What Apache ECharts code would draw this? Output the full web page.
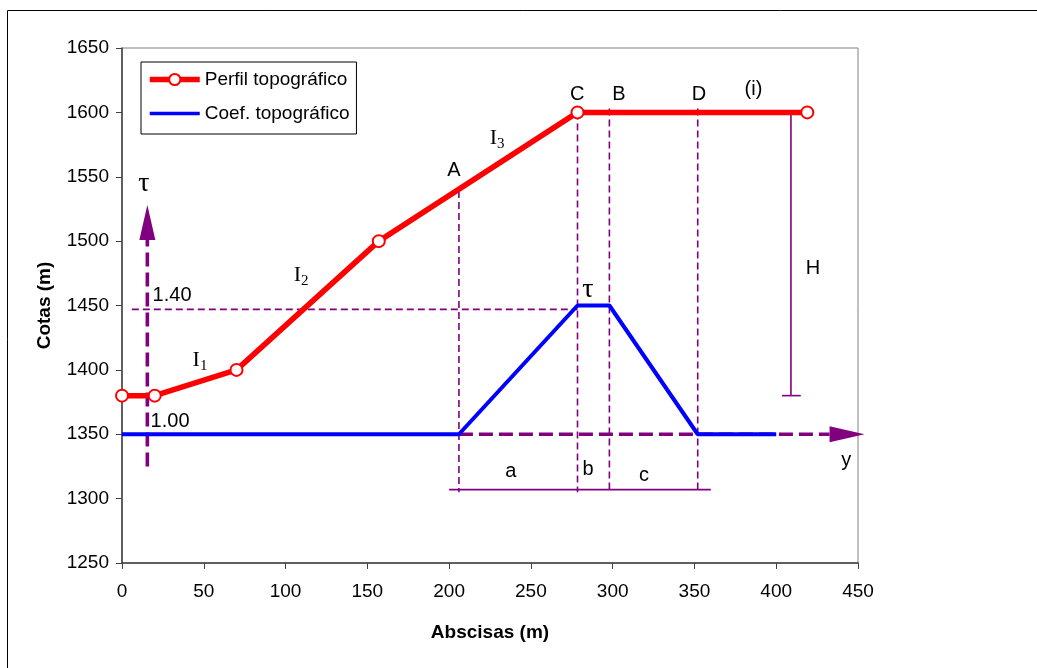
<!DOCTYPE html>
<html>
<head>
<meta charset="utf-8">
<script src="https://cdn.jsdelivr.net/npm/echarts@6/dist/echarts.min.js"></script>
<style>
  html, body { margin: 0; padding: 0; background: #fff; }
  #chart { width: 1037px; height: 668px; }
</style>
</head>
<body>
<div id="chart"></div>
<script>
// Terrain profile: stations (m) and elevations (m)
const stations = [0, 20, 70, 157, 278.5, 419];
const elevations = [1380, 1380, 1400, 1500, 1600, 1600];

// Topographic coefficient drawn on the elevation scale (1.00 -> 1350, 1.40 -> 1450)
const coefStations = [0, 206, 278.5, 298, 352, 400];
const coefLevels = [1350, 1350, 1450, 1450, 1350, 1350];

// Construction lines [x1, y1, x2, y2] in axis units
const dashedGuides = [
  [6, 1447, 278.5, 1447],
  [206, 1539, 206, 1305],
  [278.5, 1600, 278.5, 1305],
  [298, 1603, 298, 1305],
  [352, 1603, 352, 1305]
];
const solidGuides = [
  [200, 1307, 360, 1307],
  [409, 1600, 409, 1380],
  [403.5, 1380, 415, 1380]
];
// Auxiliary axes tau / y, ending in an arrowhead at the second point
const auxAxes = [
  [15.5, 1325, 15.5, 1528],
  [206, 1350, 454, 1350]
];

// Annotation texts and their anchor points
const sansLabels = ['A', 'C', 'B', 'D', '(i)', 'a', 'b', 'c', 'H', 'y', '1.40', '1.00'];
const sansLabelX = [202.9, 278.3, 303.8, 352.7, 386.1, 237.8, 284.9, 319.2, 422.5, 442.8, 30.6, 29.4];
const sansLabelY = [1555.2, 1613.7, 1613.7, 1613.7, 1617.6, 1321.3, 1322.8, 1318.2, 1479.0, 1329.8, 1457.5, 1359.6];

const serifLabels = ['{t|τ}', '{t|τ}', '{m|I}{s|1}', '{m|I}{s|2}', '{m|I}{s|3}'];
const serifLabelX = [13.3, 284.8, 47.7, 109.5, 229.4];
const serifLabelY = [1544.9, 1462.7, 1407.5, 1473.6, 1580];

const SANS = '"Liberation Sans", Arial, sans-serif';
const SERIF = '"Liberation Serif", "Times New Roman", serif';
const PURPLE = '#800080';

function segData(arr) { return arr.map(s => s.slice()); }

function renderSegment(style) {
  return function (params, api) {
    const p1 = api.coord([api.value(0), api.value(1)]);
    const p2 = api.coord([api.value(2), api.value(3)]);
    return {
      type: 'line',
      shape: { x1: p1[0], y1: p1[1], x2: p2[0], y2: p2[1] },
      style: Object.assign({ fill: null }, style)
    };
  };
}

function renderArrow(params, api) {
  const p1 = api.coord([api.value(0), api.value(1)]);
  const p2 = api.coord([api.value(2), api.value(3)]);
  const dx = p2[0] - p1[0], dy = p2[1] - p1[1];
  const len = Math.sqrt(dx * dx + dy * dy);
  const ux = dx / len, uy = dy / len;
  const headLen = 35, headHalf = 8;
  const bx = p2[0] - ux * headLen, by = p2[1] - uy * headLen;
  return {
    type: 'group',
    children: [
      {
        type: 'line',
        shape: { x1: p1[0], y1: p1[1], x2: bx, y2: by },
        style: { stroke: PURPLE, lineWidth: 3.6, lineDash: [14, 6], fill: null }
      },
      {
        type: 'polygon',
        shape: { points: [
          [p2[0], p2[1]],
          [bx - uy * headHalf, by + ux * headHalf],
          [bx + uy * headHalf, by - ux * headHalf]
        ] },
        style: { fill: PURPLE, stroke: null }
      }
    ]
  };
}

function renderSansLabel(params, api) {
  const p = api.coord([api.value(0), api.value(1)]);
  return {
    type: 'text',
    x: p[0], y: p[1],
    style: {
      text: sansLabels[params.dataIndex],
      fill: '#000',
      font: '20px ' + SANS,
      align: 'center',
      verticalAlign: 'middle'
    }
  };
}

function renderSerifLabel(params, api) {
  const p = api.coord([api.value(0), api.value(1)]);
  return {
    type: 'text',
    x: p[0], y: p[1],
    style: {
      text: serifLabels[params.dataIndex],
      fill: '#000',
      align: 'center',
      verticalAlign: 'middle',
      rich: {
        t: { fontFamily: SERIF, fontSize: 28, fill: '#000', lineHeight: 28 },
        m: { fontFamily: SERIF, fontSize: 22, fill: '#000', lineHeight: 24 },
        s: { fontFamily: SERIF, fontSize: 15, fill: '#000', padding: [12, 0, 0, 0], lineHeight: 24 }
      }
    }
  };
}

const chart = echarts.init(document.getElementById('chart'), null, { renderer: 'canvas' });

chart.setOption({
  animation: false,
  backgroundColor: '#fff',
  textStyle: { fontFamily: SANS },
  graphic: [{
    type: 'rect',
    shape: { x: 7.5, y: 10.5, width: 1100, height: 800 },
    style: { fill: null, stroke: '#000', lineWidth: 1 },
    silent: true,
    z: -10
  }],
  grid: {
    left: 122, right: 179, top: 48, bottom: 105,
    show: true, borderColor: '#808080', borderWidth: 1, backgroundColor: 'transparent'
  },
  legend: {
    orient: 'vertical',
    left: 141, top: 62,
    padding: [8, 7, 11, 6],
    itemWidth: 50, itemHeight: 14, itemGap: 15,
    borderColor: '#000', borderWidth: 1,
    backgroundColor: '#fff',
    textStyle: { fontSize: 19, color: '#000', fontFamily: SANS },
    data: [
      { name: 'Perfil topográfico', lineStyle: { width: 5.5, color: '#ff0000' } },
      { name: 'Coef. topográfico', lineStyle: { width: 3.5, color: '#0000ff' }, itemStyle: { opacity: 0 } }
    ]
  },
  xAxis: {
    type: 'value', min: 0, max: 450, interval: 50,
    name: 'Abscisas (m)', nameLocation: 'middle', nameGap: 60,
    nameTextStyle: { fontSize: 19, fontWeight: 'bold', color: '#000', fontFamily: SANS },
    axisLine: { show: true, onZero: false, lineStyle: { color: '#404040', width: 1.5 } },
    axisTick: { show: true, length: 6, lineStyle: { color: '#404040', width: 1 } },
    axisLabel: { fontSize: 19, color: '#000', margin: 19, fontFamily: SANS, formatter: v => String(v) },
    splitLine: { show: false }
  },
  yAxis: {
    type: 'value', min: 1250, max: 1650, interval: 50,
    name: 'Cotas (m)', nameLocation: 'middle', nameGap: 68,
    nameTextStyle: { fontSize: 19, fontWeight: 'bold', color: '#000', fontFamily: SANS },
    axisLine: { show: true, onZero: false, lineStyle: { color: '#404040', width: 1.5 } },
    axisTick: { show: true, length: 6, lineStyle: { color: '#404040', width: 1 } },
    axisLabel: { fontSize: 19, color: '#000', margin: 13, fontFamily: SANS, formatter: v => String(v) },
    splitLine: { show: false }
  },
  series: [
    {
      type: 'custom', name: 'auxAxes', z: 2, silent: true,
      renderItem: renderArrow,
      encode: { x: [0, 2], y: [1, 3] },
      data: segData(auxAxes)
    },
    {
      type: 'custom', name: 'dashedGuides', z: 2, silent: true,
      renderItem: renderSegment({ stroke: PURPLE, lineWidth: 1.6, lineDash: [7, 4] }),
      encode: { x: [0, 2], y: [1, 3] },
      data: segData(dashedGuides)
    },
    {
      type: 'custom', name: 'solidGuides', z: 2, silent: true,
      renderItem: renderSegment({ stroke: PURPLE, lineWidth: 1.6 }),
      encode: { x: [0, 2], y: [1, 3] },
      data: segData(solidGuides)
    },
    {
      type: 'line', name: 'Coef. topográfico', z: 3,
      data: coefStations.map((x, i) => [x, coefLevels[i]]),
      showSymbol: false, symbol: 'none',
      lineStyle: { color: '#0000ff', width: 4 },
      itemStyle: { color: '#0000ff' }
    },
    {
      type: 'line', name: 'Perfil topográfico', z: 5,
      data: stations.map((x, i) => [x, elevations[i]]),
      symbol: 'circle', symbolSize: 12, showSymbol: true,
      lineStyle: { color: '#ff0000', width: 5.5 },
      itemStyle: { color: '#ffffff', borderColor: '#ff0000', borderWidth: 2 }
    },
    {
      type: 'custom', name: 'sansLabels', z: 6, silent: true,
      renderItem: renderSansLabel,
      encode: { x: 0, y: 1 },
      data: sansLabelX.map((x, i) => [x, sansLabelY[i]])
    },
    {
      type: 'custom', name: 'serifLabels', z: 6, silent: true,
      renderItem: renderSerifLabel,
      encode: { x: 0, y: 1 },
      data: serifLabelX.map((x, i) => [x, serifLabelY[i]])
    }
  ]
});
</script>
</body>
</html>
